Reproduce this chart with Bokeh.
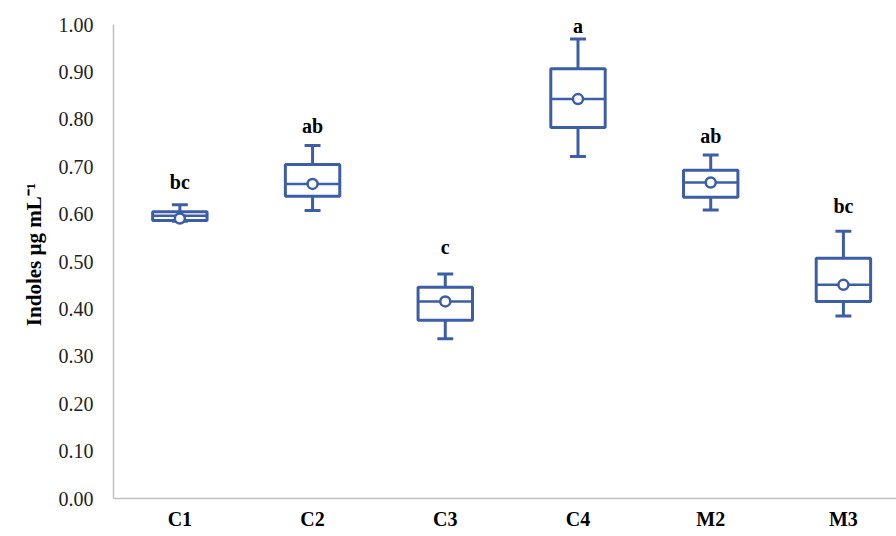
from bokeh.plotting import figure
from bokeh.models import Range1d, FixedTicker, NumeralTickFormatter, ColumnDataSource, LabelSet
from bokeh.embed import file_html
from bokeh.resources import INLINE

# ---- data ----
groups = ["C1", "C2", "C3", "C4", "M2", "M3"]
whisker_low = [0.585, 0.608, 0.337, 0.722, 0.609, 0.385]
q1 = [0.587, 0.638, 0.376, 0.783, 0.636, 0.416]
median = [0.597, 0.664, 0.416, 0.843, 0.667, 0.451]
q3 = [0.605, 0.705, 0.446, 0.907, 0.693, 0.507]
whisker_high = [0.620, 0.745, 0.474, 0.970, 0.725, 0.564]
mean = [0.591, 0.664, 0.416, 0.843, 0.667, 0.451]
letters = ["bc", "ab", "c", "a", "ab", "bc"]
letter_y = [0.667, 0.787, 0.530, 0.998, 0.766, 0.618]
y_ticks = [0.0, 0.1, 0.2, 0.3, 0.4, 0.5, 0.6, 0.7, 0.8, 0.9, 1.0]

BLUE = "#3c5ea6"
SERIF = "Liberation Serif"

xs = [i + 0.5 for i in range(len(groups))]
half_box = 0.205
half_cap = 0.06

src = ColumnDataSource(dict(
    x=xs,
    left=[x - half_box for x in xs],
    right=[x + half_box for x in xs],
    cap_l=[x - half_cap for x in xs],
    cap_r=[x + half_cap for x in xs],
    wlo=whisker_low, q1=q1, med=median, q3=q3, whi=whisker_high,
    mean=mean, letters=letters, ly=letter_y,
))

# the range reaches a little above 1.00 so the top letter has room; the axis line stops at 1.00
p = figure(width=896, height=536, output_backend="svg", toolbar_location=None,
           x_range=Range1d(0, 5.9), y_range=Range1d(0, 1.03))
p.min_border_left = 113
p.min_border_right = 0
p.min_border_top = 10
p.min_border_bottom = 38
p.outline_line_color = None
p.xgrid.grid_line_color = None
p.ygrid.grid_line_color = None
p.background_fill_color = "white"
p.border_fill_color = "white"

# whiskers
p.segment(x0="x", y0="q3", x1="x", y1="whi", source=src, line_color=BLUE, line_width=3)
p.segment(x0="x", y0="wlo", x1="x", y1="q1", source=src, line_color=BLUE, line_width=3)
p.segment(x0="cap_l", y0="whi", x1="cap_r", y1="whi", source=src, line_color=BLUE, line_width=3)
p.segment(x0="cap_l", y0="wlo", x1="cap_r", y1="wlo", source=src, line_color=BLUE, line_width=3)
# boxes
p.quad(left="left", right="right", bottom="q1", top="q3", source=src,
       fill_color="white", line_color=BLUE, line_width=3)
# median
p.segment(x0="left", y0="med", x1="right", y1="med", source=src, line_color=BLUE, line_width=2.5)
# mean
p.scatter(x="x", y="mean", source=src, marker="circle", size=10,
          fill_color="white", line_color=BLUE, line_width=2.5)
# significance letters
p.add_layout(LabelSet(x="x", y="ly", text="letters", source=src, text_align="center",
                      text_baseline="middle", text_font=SERIF, text_font_style="bold",
                      text_font_size="20px", text_color="black"))

# axes
p.xaxis.ticker = FixedTicker(ticks=xs)
p.xaxis.major_label_overrides = {x: g for x, g in zip(xs, groups)}
p.xaxis.major_label_text_font = SERIF
p.xaxis.major_label_text_font_style = "bold"
p.xaxis.major_label_text_font_size = "20px"
p.xaxis.major_label_text_color = "black"
p.xaxis.major_label_standoff = 9
p.xaxis.major_tick_line_color = None
p.xaxis.major_tick_out = 0
p.xaxis.major_tick_in = 0
p.xaxis.minor_tick_line_color = None
p.xaxis.axis_line_color = "#bfbfbf"
p.xaxis.axis_line_width = 1.5

p.yaxis.ticker = FixedTicker(ticks=y_ticks)
p.yaxis.bounds = (0, 1.0)
p.yaxis.formatter = NumeralTickFormatter(format="0.00")
p.yaxis.major_label_text_font = SERIF
p.yaxis.major_label_text_font_size = "20px"
p.yaxis.major_label_text_color = "#222222"
p.yaxis.major_label_standoff = 20
p.yaxis.major_tick_line_color = None
p.yaxis.major_tick_out = 0
p.yaxis.major_tick_in = 0
p.yaxis.minor_tick_line_color = None
p.yaxis.axis_line_color = "#bfbfbf"
p.yaxis.axis_line_width = 1.5
p.yaxis.axis_label = "Indoles µg mL⁻¹"
p.yaxis.axis_label_text_font = SERIF
p.yaxis.axis_label_text_font_style = "bold"
p.yaxis.axis_label_text_font_size = "21px"
p.yaxis.axis_label_text_color = "black"
p.yaxis.axis_label_standoff = 10

open("out.html", "w").write(file_html(p, INLINE))
